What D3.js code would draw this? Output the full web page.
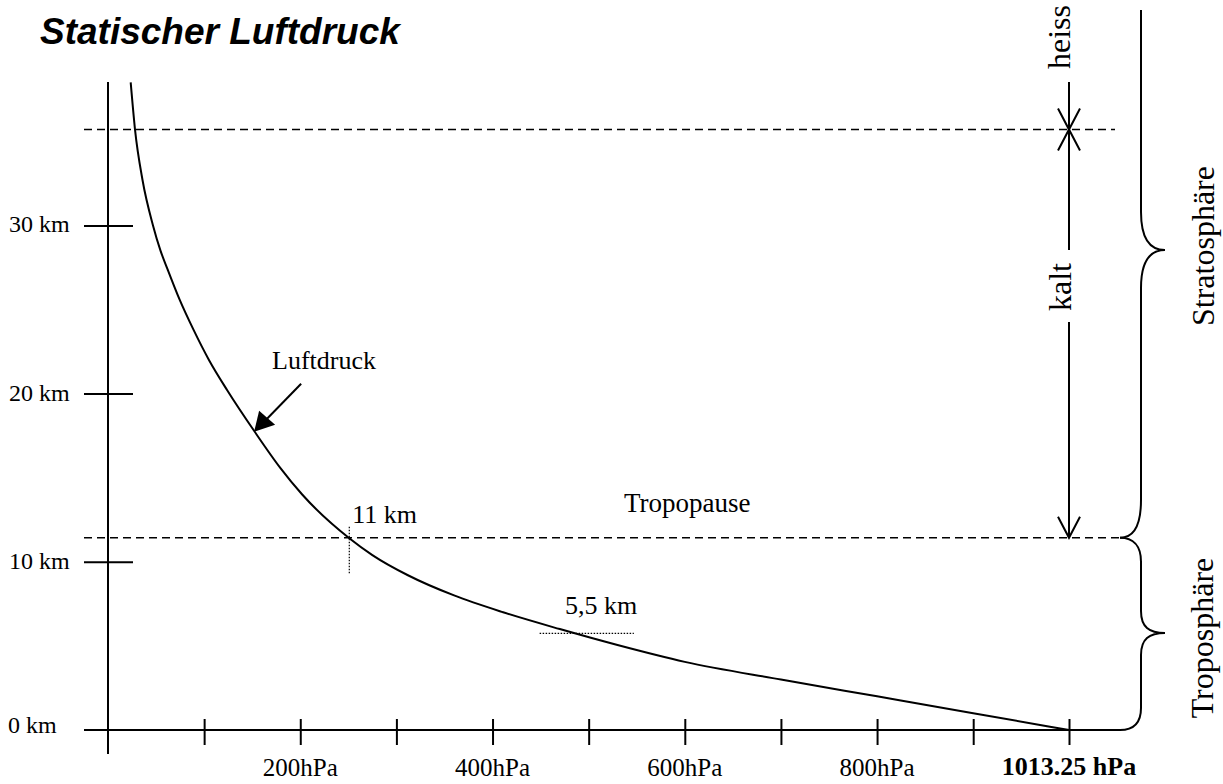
<!DOCTYPE html>
<html>
<head>
<meta charset="utf-8">
<script src="https://cdn.jsdelivr.net/npm/d3@7"></script>
<style>
  html, body { margin: 0; padding: 0; background: #fff; }
  svg { display: block; }
  .serif { font-family: "Liberation Serif", "Times New Roman", serif; fill: #000; }
</style>
</head>
<body>
<svg id="chart" width="1223" height="784"></svg>
<script>
// ---- data ----
const chartTitle = "Statischer Luftdruck";
const heightKm    = [38.5, 35.7, 32.7, 30.0, 28.5, 27.4, 25.6, 23.8, 22.0, 20.2, 17.7, 15.6, 14.0, 11.4, 10.4, 9.2, 8.0, 7.0, 6.0, 5.05, 4.05, 3.0, 2.0, 1.0, 0];
const pressureHpa = [23.6, 28.1, 35.9, 46.8, 54.6, 61.9, 74.4, 88.9, 105, 124, 153, 179, 202, 251, 275, 312, 360, 411, 470, 530, 600, 700, 800, 900, 1013.25];
const xTickValues = [100, 200, 300, 400, 500, 600, 700, 800, 900, 1013.25];
const xTickLabels = ["", "200hPa", "", "400hPa", "", "600hPa", "", "800hPa", "", "1013.25 hPa"];
const yTickValues = [0, 10, 20, 30];
const yTickLabels = ["0 km", "10 km", "20 km", "30 km"];
const tropopauseKm = 11.43;
const tropopausePressure = 251;
const stratTopKm = 35.7;
const midKm = 5.74;
const midPressureRange = [449, 547];
const arrowPoint = {p: 152, h: 17.73};

// ---- scales ----
const svg = d3.select("#chart");
const x = d3.scaleLinear().domain([0, 900, 1013.25]).range([108, 973.2, 1069]);
const y = d3.scaleLinear().domain([0, 40]).range([730, 730 - 40 * 16.82]);

const g = svg.append("g");

// title
svg.append("text")
  .attr("x", 40).attr("y", 44)
  .style("font-family", "'Liberation Sans', Arial, sans-serif")
  .style("font-weight", "bold").style("font-style", "italic")
  .style("font-size", "37px")
  .text(chartTitle);

// dashed reference lines
[[stratTopKm, 1115], [tropopauseKm, 1120]].forEach(([h, xEnd]) => {
  g.append("line")
    .attr("x1", 84).attr("x2", xEnd)
    .attr("y1", y(h)).attr("y2", y(h))
    .attr("stroke", "#000").attr("stroke-width", 1.6)
    .attr("stroke-dasharray", "8,5");
});

// Y axis
g.append("line").attr("x1", x(0)).attr("x2", x(0)).attr("y1", 82).attr("y2", 754)
  .attr("stroke", "#000").attr("stroke-width", 2);
const yAxis = d3.axisLeft(y).tickValues(yTickValues.slice(1)).tickSize(0).tickFormat("");
const yg = g.append("g").attr("transform", `translate(${x(0)},0)`).call(yAxis);
yg.select(".domain").remove();
yg.selectAll(".tick line").attr("x1", -24).attr("x2", 25).attr("stroke", "#000").attr("stroke-width", 2);
g.selectAll(".ylab").data(yTickValues).join("text")
  .attr("class", "serif ylab")
  .attr("x", (d, i) => i === 0 ? 8 : 9)
  .attr("y", d => y(d) + (d === 0 ? 3 : 7))
  .style("font-size", "24px")
  .text((d, i) => yTickLabels[i]);

// X axis line (joins brace)
g.append("line").attr("x1", 84).attr("x2", 1121).attr("y1", y(0)).attr("y2", y(0))
  .attr("stroke", "#000").attr("stroke-width", 2);
const xAxis = d3.axisBottom(x).tickValues(xTickValues).tickSize(0).tickFormat("");
const xg = g.append("g").attr("transform", `translate(0,${y(0)})`).call(xAxis);
xg.select(".domain").remove();
xg.selectAll(".tick line").attr("y1", -11).attr("y2", 15).attr("stroke", "#000").attr("stroke-width", 2);
g.selectAll(".xlab").data(xTickValues).join("text")
  .attr("class", "serif xlab")
  .attr("x", d => x(d))
  .attr("y", (d, i) => i === xTickValues.length - 1 ? 775 : 776)
  .attr("text-anchor", "middle")
  .style("font-size", (d, i) => i === xTickValues.length - 1 ? "26px" : "25px")
  .style("font-weight", (d, i) => i === xTickValues.length - 1 ? "bold" : "normal")
  .text((d, i) => xTickLabels[i]);

// pressure curve
const pts = pressureHpa.map((p, i) => [p, heightKm[i]]);
g.append("path")
  .datum(pts)
  .attr("d", d3.line().x(d => x(d[0])).y(d => y(d[1])).curve(d3.curveMonotoneX))
  .attr("fill", "none").attr("stroke", "#000").attr("stroke-width", 2);

// dotted markers
g.append("line")
  .attr("x1", x(tropopausePressure)).attr("x2", x(tropopausePressure))
  .attr("y1", y(tropopauseKm) - 11).attr("y2", y(tropopauseKm) + 37)
  .attr("stroke", "#000").attr("stroke-width", 1.2).attr("stroke-dasharray", "1.5,1.5");
g.append("line")
  .attr("x1", x(midPressureRange[0])).attr("x2", x(midPressureRange[1]))
  .attr("y1", y(midKm)).attr("y2", y(midKm))
  .attr("stroke", "#000").attr("stroke-width", 1.2).attr("stroke-dasharray", "1.5,1.5");

// labels
const lab = (t, xx, yy, size) => g.append("text").attr("class", "serif")
  .attr("x", xx).attr("y", yy).style("font-size", size + "px").text(t);
lab("11 km", x(tropopausePressure) + 3, y(tropopauseKm) - 15, 26);
lab("5,5 km", 565, y(midKm) - 19, 26);
lab("Tropopause", 624, y(tropopauseKm) - 26, 27);
lab("Luftdruck", 272, 369, 26);

// Luftdruck arrow
const ax = x(arrowPoint.p), ay = y(arrowPoint.h);
g.append("line").attr("x1", ax + 47).attr("y1", ay - 48).attr("x2", ax + 10).attr("y2", ay - 10)
  .attr("stroke", "#000").attr("stroke-width", 2);
g.append("path")
  .attr("d", `M${ax},${ay} L${ax + 5},${ay - 21} L${ax + 21},${ay - 7} Z`)
  .attr("fill", "#000");

// right annotation: heiss / kalt
const rx = x(1013.25);
const yTop = y(stratTopKm), yTrop = y(tropopauseKm);
const stroke = sel => sel.attr("stroke", "#000").attr("stroke-width", 2).attr("fill", "none");
stroke(g.append("line").attr("x1", rx).attr("x2", rx).attr("y1", 82).attr("y2", yTop));
stroke(g.append("line").attr("x1", rx).attr("x2", rx).attr("y1", yTop).attr("y2", 250));
stroke(g.append("line").attr("x1", rx).attr("x2", rx).attr("y1", 322).attr("y2", yTrop));
stroke(g.append("path").attr("d", `M${rx - 11},${yTop - 21} L${rx},${yTop} L${rx + 11},${yTop - 21}`));
stroke(g.append("path").attr("d", `M${rx - 11},${yTop + 21} L${rx},${yTop} L${rx + 11},${yTop + 21}`));
stroke(g.append("path").attr("d", `M${rx - 11},${yTrop - 21} L${rx},${yTrop} L${rx + 11},${yTrop - 21}`));

const vlab = (t, xx, yy, size) => g.append("text").attr("class", "serif")
  .attr("transform", `translate(${xx},${yy}) rotate(-90)`)
  .attr("text-anchor", "middle").style("font-size", size + "px").text(t);
vlab("heiss", rx + 1, 37, 32);
vlab("kalt", rx + 2, 287, 32);
vlab("Stratosphäre", 1214, 246, 32);
vlab("Troposphäre", 1213, 638, 32);

// braces
const bx = 1141, tx = 1165;
const yGround = y(0);
stroke(g.append("path").attr("d",
  `M${bx},10 L${bx},212 C${bx},238 ${bx + 8},250 ${tx},250 ` +
  `C${bx + 8},250 ${bx},262 ${bx},288 L${bx},500 ` +
  `C${bx},526 ${bx - 8},${yTrop} ${bx - 21},${yTrop}`));
const tipY = 633;
stroke(g.append("path").attr("d",
  `M${bx - 21},${yTrop} C${bx - 8},${yTrop} ${bx},${yTrop + 8} ${bx},${yTrop + 24} L${bx},${tipY - 22} ` +
  `C${bx},${tipY - 6} ${bx + 8},${tipY} ${tx},${tipY} ` +
  `C${bx + 8},${tipY} ${bx},${tipY + 6} ${bx},${tipY + 22} L${bx},${yGround - 22} ` +
  `C${bx},${yGround - 6} ${bx - 8},${yGround} ${bx - 21},${yGround}`));
</script>
</body>
</html>
